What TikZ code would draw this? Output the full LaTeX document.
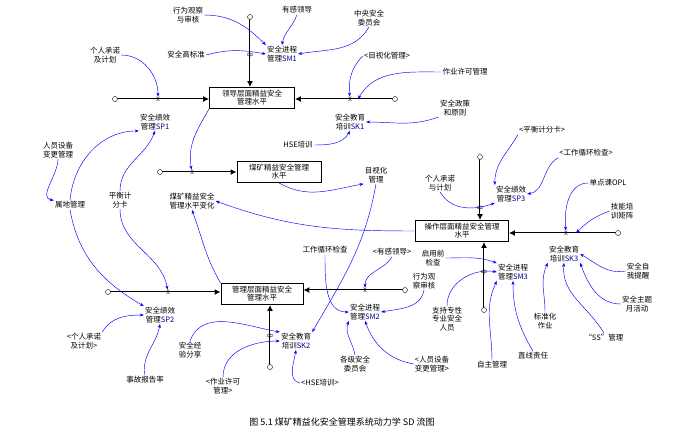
\documentclass[tikz,border=0pt]{standalone}
\usepackage{fontspec}
\setmainfont{Noto Sans CJK SC}
\usetikzlibrary{arrows.meta}
\tikzset{
 stock/.style={draw,thick,align=center,inner sep=1pt,minimum height=21pt,font=\fontsize{7.5}{8}\selectfont},
 aux/.style={align=center,inner sep=1pt,font=\fontsize{7.5}{8.5}\selectfont},
 cloud/.style={draw,circle,inner sep=0pt,minimum size=5pt,fill=white},
 flow/.style={line width=2.2pt,-{Latex[length=6pt,width=6pt]},postaction={draw=white,line width=0.8pt,shorten >=6pt,-}},
 inf/.style={blue,line width=0.45pt,-{Stealth[length=4pt,width=3pt]}},
 vlv/.style={inner sep=0pt,font=\fontsize{6}{6}\selectfont}
}
\newcommand{\cd}[1]{\textcolor{blue!55!black}{#1}}
\begin{document}
\begin{tikzpicture}[x=1pt,y=-1pt]
\useasboundingbox (0,0) rectangle (684,440);
% stocks
\node[stock,minimum width=85pt] (L1) at (252,98) {领导层面精益安全\\管理水平};
\node[stock,minimum width=84pt] (MN) at (279,172) {煤矿精益安全管理\\水平};
\node[stock,minimum width=93pt] (OP) at (462,231) {操作层面精益安全管理\\水平};
\node[stock,minimum width=82pt] (MG) at (262,294) {管理层面精益安全\\管理水平};
% cloud positions
\coordinate (p1) at (115,99);
\coordinate (p2) at (395,99);
\coordinate (p3) at (250,17);
\coordinate (p4) at (160,172);
\coordinate (p5) at (480,157);
\coordinate (p6) at (618,233);
\coordinate (p7) at (484,310);
\coordinate (p8) at (108,292);
\coordinate (p9) at (405,290);
\coordinate (p10) at (270,367);
% flows
\draw[flow] (p1) -- (L1.west|-p1);
\draw[flow] (p2) -- (L1.east|-p2);
\draw[flow] (p3) -- (p3|-L1.north);
\draw[flow] (p4) -- (MN.west|-p4);
\draw[flow] (p5) -- (p5|-OP.north);
\draw[flow] (p6) -- (OP.east|-p6);
\draw[flow] (p7) -- (p7|-OP.south);
\draw[flow] (p8) -- (MG.west|-p8);
\draw[flow] (p9) -- (MG.east|-p9);
\draw[flow] (p10) -- (p10|-MG.south);
\foreach \i in {1,...,10} \node[cloud] (c\i) at (p\i) {};
% valves
\node[vlv] (v1) at (158,99) {X};
\node[vlv] (v2) at (350,99) {X};
\node[vlv] (v3) at (250,55) {中};
\node[vlv] (v4) at (192,172) {X};
\node[vlv] (v5) at (480,208) {中};
\node[vlv] (v6) at (566,233) {X};
\node[vlv] (v7) at (484,272) {中};
\node[vlv] (v8) at (168,292) {X};
\node[vlv] (v9) at (365,290) {X};
\node[vlv] (v10) at (270,336) {中};
% rate labels
\node[aux] (SP1) at (155,122) {安全绩效\\管理\cd{SP1}};
\node[aux] (SK1) at (350,122) {安全教育\\培训\cd{SK1}};
\node[aux] (SM1) at (282,54) {安全进程\\管理\cd{SM1}};
\node[aux] (MNR) at (192,201) {煤矿精益安全\\管理水平变化};
\node[aux] (SP3) at (511,194) {安全绩效\\管理\cd{SP3}};
\node[aux] (SK3) at (564,254) {安全教育\\培训\cd{SK3}};
\node[aux] (SM3) at (513,272) {安全进程\\管理\cd{SM3}};
\node[aux] (SP2) at (160,315) {安全绩效\\管理\cd{SP2}};
\node[aux] (SM2) at (365,312) {安全进程\\管理\cd{SM2}};
\node[aux] (SK2) at (296,341) {安全教育\\培训\cd{SK2}};
% auxiliaries
\node[aux] (a1) at (188,15) {行为观察\\与审核};
\node[aux] (a2) at (297,10) {有感领导};
\node[aux] (a3) at (369,18) {中央安全\\委员会};
\node[aux] (a4) at (186,55) {安全高标准};
\node[aux] (a5) at (105,55) {个人承诺\\及计划};
\node[aux] (a6) at (387,56) {<目视化管理>};
\node[aux] (a7) at (465,72) {作业许可管理};
\node[aux] (a8) at (455,108) {安全政策\\和原则};
\node[aux] (a9) at (298,145) {HSE培训};
\node[aux] (a10) at (58,150) {人员设备\\变更管理};
\node[aux] (a11) at (70,205) {属地管理};
\node[aux] (a12) at (120,200) {平衡计\\分卡};
\node[aux] (a13) at (376,175) {目视化\\管理};
\node[aux] (a14) at (542,130) {<平衡计分卡>};
\node[aux] (a15) at (586,153) {<工作循环检查>};
\node[aux] (a16) at (440,183) {个人承诺\\与计划};
\node[aux] (a17) at (608,183) {单点课OPL};
\node[aux] (a18) at (622,211) {技能培\\训矩阵};
\node[aux] (a19) at (325,250) {工作循环检查};
\node[aux] (a20) at (392,252) {<有感领导>};
\node[aux] (a21) at (433,258) {启用前\\检查};
\node[aux] (a22) at (424,281) {行为观\\察审核};
\node[aux] (a23) at (638,271) {安全自\\我提醒};
\node[aux] (a24) at (637,304) {安全主题\\月活动};
\node[aux] (a25) at (545,321) {标准化\\作业};
\node[aux] (a26) at (447,319) {支持专性\\专业安全\\人员};
\node[aux] (a27) at (604,338) {“5S”管理};
\node[aux] (a28) at (533,356) {直线责任};
\node[aux] (a29) at (492,365) {自主管理};
\node[aux] (a30) at (84,341) {<个人承诺\\及计划>};
\node[aux] (a31) at (190,350) {安全经\\验分享};
\node[aux] (a32) at (145,380) {事故报告率};
\node[aux] (a33) at (223,386) {<作业许可\\管理>};
\node[aux] (a34) at (320,383) {<HSE培训>};
\node[aux] (a35) at (355,364) {各级安全\\委员会};
\node[aux] (a36) at (432,364) {<人员设备\\变更管理>};
\node[font=\fontsize{9}{10}\selectfont] (cap) at (342,422) {图 5.1 煤矿精益化安全管理系统动力学 SD 流图};
% influences
\draw[inf] (a1.east) to[out=0,in=135] (SM1.north west);
\draw[inf] (a2.south) to[out=-110,in=80] (SM1.north);
\draw[inf] (a3.south) to[out=-120,in=10] (SM1.east);
\draw[inf] (a4.east) to[out=15,in=170] (SM1.west);
\draw[inf] (a5.east) to[out=0,in=90] (v1);
\draw[inf] (a6.west) to[out=-135,in=95] (v2);
\draw[inf] (a7.west) to[out=180,in=60] ([xshift=8pt]v2.center);
\draw[inf] (a8.south west) to[out=-160,in=0] (SK1.east);
\draw[inf] (a9.east) to[out=0,in=-120] (SK1.south);
\draw[inf] (L1.south west) to[out=-120,in=100] (v4);
\draw[inf] (MN.south) to[out=-30,in=190] (a13.south west);
\draw[inf] (a13.south) to[out=-100,in=60] (SK2.north east);
\draw[inf] (a10.south) to[out=-90,in=170] (a11.north west);
\draw[inf] (a11.north) to[out=85,in=180] (SP1.south west);
\draw[inf] (a12.north) to[out=90,in=-110] (SP1.south);
\draw[inf] (a11.south) to[out=-80,in=150] (SP2.north west);
\draw[inf] (a12.south) to[out=-90,in=100] (v8);
\draw[inf] (MG.north west) to[out=120,in=-70] (MNR.south);
\draw[inf] (OP.west) to[out=180,in=-20] (MNR.east);
\draw[inf] (a14.south west) to[out=-120,in=90] (SP3.north west);
\draw[inf] (a15.south west) to[out=-150,in=10] (SP3.east);
\draw[inf] (a16.south) to[out=-60,in=200] (SP3.south west);
\draw[inf] (a17.west) to[out=180,in=95] (v6);
\draw[inf] (a18.west) to[out=-160,in=45] ([xshift=10pt]v6.center);
\draw[inf] (a21.east) to[out=0,in=160] (SM3.north west);
\draw[inf] (a26.north) to[out=90,in=170] (SM3.west);
\draw[inf] (a29.north) to[out=90,in=-115] (SM3.south west);
\draw[inf] (a28.north) to[out=120,in=-90] (SM3.south);
\draw[inf] (a25.north) to[out=90,in=-115] (SK3.south west);
\draw[inf] (a27.north) to[out=120,in=-95] (SK3.south);
\draw[inf] (a24.west) to[out=180,in=-70] (SK3.south east);
\draw[inf] (a23.west) to[out=190,in=-30] (SK3.east);
\draw[inf] (a19.south) to[out=-90,in=180] (SM2.west);
\draw[inf] (a20.south) to[out=-120,in=90] (v9);
\draw[inf] (a22.south) to[out=-100,in=10] (SM2.east);
\draw[inf] (a35.north) to[out=100,in=-110] (SM2.south west);
\draw[inf] (a36.west) to[out=170,in=-70] (SM2.south);
\draw[inf] (a30.north east) to[out=60,in=180] (SP2.west);
\draw[inf] (a32.north) to[out=100,in=-100] (SP2.south);
\draw[inf] (a31.north) to[out=70,in=170] (SK2.north west);
\draw[inf] (a33.north) to[out=90,in=180] (SK2.west);
\draw[inf] (a34.west) to[out=170,in=-100] (SK2.south);
\end{tikzpicture}
\end{document}
